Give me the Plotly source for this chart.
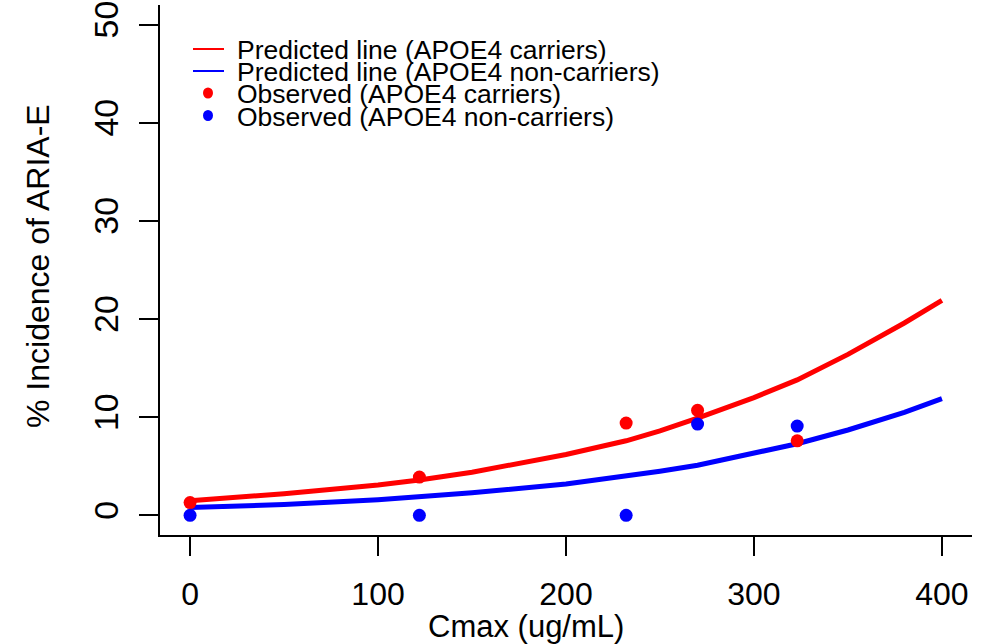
import plotly.graph_objects as go

# Observed data
obs_x_carriers = [0, 122, 232, 270, 323]
obs_y_carriers = [1.3, 3.9, 9.4, 10.7, 7.6]
obs_x_noncarriers = [0, 122, 232, 270, 323]
obs_y_noncarriers = [0.0, 0.0, 0.0, 9.3, 9.1]

# Predicted lines
pred_x = [0, 50, 100, 122, 150, 200, 232, 250, 270, 300, 323, 350, 380, 400]
pred_carriers = [1.5, 2.2, 3.1, 3.6, 4.4, 6.2, 7.6, 8.6, 9.9, 12.0, 13.8, 16.4, 19.6, 21.9]
pred_noncarriers = [0.8, 1.1, 1.6, 1.9, 2.3, 3.2, 4.0, 4.5, 5.1, 6.3, 7.3, 8.7, 10.5, 11.9]

x_ticks = [0, 100, 200, 300, 400]
y_ticks = [0, 10, 20, 30, 40, 50]

x_title = "Cmax (ug/mL)"
y_title = "% Incidence of ARIA-E"
legend_labels = ["Predicted line (APOE4 carriers)",
                 "Predicted line (APOE4 non-carriers)",
                 "Observed (APOE4 carriers)",
                 "Observed (APOE4 non-carriers)"]

RED = "#FF0000"
BLUE = "#0000FF"
FONT = "Liberation Sans, Arial, sans-serif"

fig = go.Figure()
fig.add_trace(go.Scatter(x=pred_x, y=pred_carriers, mode="lines",
                         line=dict(color=RED, width=5), showlegend=False))
fig.add_trace(go.Scatter(x=pred_x, y=pred_noncarriers, mode="lines",
                         line=dict(color=BLUE, width=5), showlegend=False))
fig.add_trace(go.Scatter(x=obs_x_carriers, y=obs_y_carriers, mode="markers",
                         marker=dict(color=RED, size=13), showlegend=False))
fig.add_trace(go.Scatter(x=obs_x_noncarriers, y=obs_y_noncarriers, mode="markers",
                         marker=dict(color=BLUE, size=13), showlegend=False))

W, H = 986, 644
ml, mr, mt, mb = 160, 14, 5, 109
pw, ph = W - ml - mr, H - mt - mb


def px2paper(px, py):
    return (px - ml) / pw, (H - mb - py) / ph


shapes = []
annotations = []

# Axis titles
tx, ty = px2paper(526, 626)
annotations.append(dict(x=tx, y=ty, xref="paper", yref="paper", text=x_title,
                        showarrow=False, xanchor="center", yanchor="middle",
                        font=dict(family=FONT, size=31, color="black")))
tx, ty = px2paper(38, 266)
annotations.append(dict(x=tx, y=ty, xref="paper", yref="paper", text=y_title,
                        showarrow=False, xanchor="center", yanchor="middle", textangle=-90,
                        font=dict(family=FONT, size=32, color="black")))

# Manual legend (R-style compact legend)
rows_y = [49, 71, 93, 115.5]
colors = [RED, BLUE, RED, BLUE]
for i, (lab, c, ry) in enumerate(zip(legend_labels, colors, rows_y)):
    tx, ty = px2paper(235, ry + 1)
    annotations.append(dict(x=tx, y=ty, xref="paper", yref="paper", text=lab,
                            showarrow=False, xanchor="left", yanchor="middle",
                            font=dict(family=FONT, size=26.5, color="black")))
    if i < 2:
        x0, y0 = px2paper(193, ry)
        x1, _ = px2paper(224, ry)
        shapes.append(dict(type="line", xref="paper", yref="paper", x0=x0, x1=x1,
                           y0=y0, y1=y0, line=dict(color=c, width=2)))
    else:
        cx, cy = px2paper(208, ry)
        shapes.append(dict(type="circle", xref="paper", yref="paper",
                           xsizemode="pixel", ysizemode="pixel", xanchor=cx, yanchor=cy,
                           x0=-5, x1=5, y0=-5.5, y1=5.5, fillcolor=c, line=dict(width=0)))

fig.update_layout(
    width=W, height=H,
    margin=dict(l=ml, r=mr, t=mt, b=mb, autoexpand=False),
    paper_bgcolor="white", plot_bgcolor="white",
    font=dict(family=FONT, color="black"),
    shapes=shapes, annotations=annotations,
    xaxis=dict(range=[-16, 416], tickmode="array", tickvals=x_ticks,
               ticktext=[str(v) for v in x_ticks], automargin=False,
               showgrid=False, zeroline=False, showline=True, linecolor="black",
               linewidth=1.5, ticks="outside", ticklen=19, tickwidth=1.5, tickcolor="black",
               tickfont=dict(family=FONT, size=32, color="black"), ticklabelstandoff=11),
    yaxis=dict(range=[-2, 52], tickmode="array", tickvals=y_ticks,
               ticktext=[str(v) for v in y_ticks], automargin=False,
               showgrid=False, zeroline=False, showline=True, linecolor="black",
               linewidth=1.5, ticks="outside", ticklen=19, tickwidth=1.5, tickcolor="black",
               tickangle=-90,
               tickfont=dict(family=FONT, size=34, color="black"), ticklabelstandoff=8),
)

fig.write_html("out.html")
